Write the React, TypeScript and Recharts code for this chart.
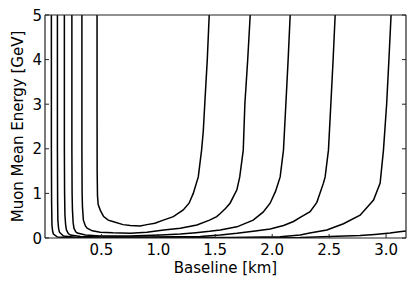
import { Line, LineChart, XAxis, YAxis } from "recharts";

// contour lines (x: baseline km, y: muon mean energy GeV)
const contour1 = [
  { x: 0.462, y: 5.0 }, { x: 0.462, y: 3.0 }, { x: 0.463, y: 1.5 }, { x: 0.466, y: 0.95 },
  { x: 0.472, y: 0.75 }, { x: 0.491, y: 0.62 }, { x: 0.52, y: 0.48 }, { x: 0.56, y: 0.4 },
  { x: 0.6, y: 0.37 }, { x: 0.69, y: 0.3 }, { x: 0.754, y: 0.28 }, { x: 0.84, y: 0.27 },
  { x: 0.9, y: 0.3 }, { x: 0.97, y: 0.33 }, { x: 1.044, y: 0.4 }, { x: 1.132, y: 0.48 },
  { x: 1.219, y: 0.63 }, { x: 1.27, y: 0.78 }, { x: 1.307, y: 1.0 }, { x: 1.351, y: 1.37 },
  { x: 1.38, y: 1.97 }, { x: 1.395, y: 2.4 }, { x: 1.41, y: 3.1 }, { x: 1.43, y: 4.0 },
  { x: 1.447, y: 5.0 },
];
const contour2 = [
  { x: 0.329, y: 5.0 }, { x: 0.329, y: 2.0 }, { x: 0.331, y: 1.0 }, { x: 0.334, y: 0.7 },
  { x: 0.342, y: 0.4 }, { x: 0.36, y: 0.27 }, { x: 0.375, y: 0.22 }, { x: 0.42, y: 0.16 },
  { x: 0.49, y: 0.13 }, { x: 0.6, y: 0.115 }, { x: 0.754, y: 0.105 }, { x: 0.9, y: 0.13 },
  { x: 1.048, y: 0.18 }, { x: 1.193, y: 0.22 }, { x: 1.339, y: 0.29 }, { x: 1.45, y: 0.4 },
  { x: 1.513, y: 0.48 }, { x: 1.544, y: 0.55 }, { x: 1.59, y: 0.66 }, { x: 1.63, y: 0.78 },
  { x: 1.69, y: 1.08 }, { x: 1.715, y: 1.37 }, { x: 1.746, y: 1.97 }, { x: 1.76, y: 3.0 },
  { x: 1.785, y: 4.0 }, { x: 1.807, y: 5.0 },
];
const contour3 = [
  { x: 0.241, y: 5.0 }, { x: 0.241, y: 2.0 }, { x: 0.243, y: 1.0 }, { x: 0.246, y: 0.63 },
  { x: 0.252, y: 0.35 }, { x: 0.259, y: 0.22 }, { x: 0.275, y: 0.14 }, { x: 0.289, y: 0.11 },
  { x: 0.36, y: 0.067 }, { x: 0.49, y: 0.045 }, { x: 0.75, y: 0.045 }, { x: 1.02, y: 0.067 },
  { x: 1.193, y: 0.09 }, { x: 1.33, y: 0.12 }, { x: 1.45, y: 0.15 }, { x: 1.544, y: 0.18 },
  { x: 1.69, y: 0.25 }, { x: 1.833, y: 0.4 }, { x: 1.92, y: 0.58 }, { x: 1.982, y: 0.78 },
  { x: 2.03, y: 1.05 }, { x: 2.07, y: 1.37 }, { x: 2.099, y: 1.97 }, { x: 2.12, y: 3.0 },
  { x: 2.14, y: 4.0 }, { x: 2.158, y: 5.0 },
];
const contour4 = [
  { x: 0.175, y: 5.0 }, { x: 0.175, y: 2.0 }, { x: 0.177, y: 1.0 }, { x: 0.18, y: 0.52 },
  { x: 0.186, y: 0.3 }, { x: 0.193, y: 0.18 }, { x: 0.21, y: 0.1 }, { x: 0.228, y: 0.067 },
  { x: 0.316, y: 0.034 }, { x: 0.49, y: 0.022 }, { x: 0.93, y: 0.022 }, { x: 1.368, y: 0.034 },
  { x: 1.544, y: 0.067 }, { x: 1.69, y: 0.105 }, { x: 1.851, y: 0.157 }, { x: 1.982, y: 0.2 },
  { x: 2.1, y: 0.28 }, { x: 2.187, y: 0.37 }, { x: 2.25, y: 0.47 }, { x: 2.333, y: 0.59 },
  { x: 2.392, y: 0.8 }, { x: 2.45, y: 1.23 }, { x: 2.465, y: 1.37 }, { x: 2.494, y: 1.97 },
  { x: 2.515, y: 3.0 }, { x: 2.535, y: 4.0 }, { x: 2.553, y: 5.0 },
];
const contour5 = [
  { x: 0.114, y: 5.0 }, { x: 0.114, y: 2.0 }, { x: 0.116, y: 0.8 }, { x: 0.118, y: 0.4 },
  { x: 0.124, y: 0.22 }, { x: 0.132, y: 0.13 }, { x: 0.167, y: 0.045 }, { x: 0.272, y: 0.015 },
  { x: 0.93, y: 0.01 }, { x: 1.632, y: 0.013 }, { x: 2.07, y: 0.03 }, { x: 2.246, y: 0.067 },
  { x: 2.33, y: 0.11 }, { x: 2.48, y: 0.18 }, { x: 2.626, y: 0.32 }, { x: 2.772, y: 0.51 },
  { x: 2.89, y: 0.85 }, { x: 2.948, y: 1.23 }, { x: 2.977, y: 1.97 }, { x: 3.005, y: 3.0 },
  { x: 3.025, y: 4.0 }, { x: 3.044, y: 5.0 },
];
const contour6 = [
  { x: 0.061, y: 5.0 }, { x: 0.061, y: 2.0 }, { x: 0.063, y: 0.8 }, { x: 0.066, y: 0.29 },
  { x: 0.072, y: 0.15 }, { x: 0.079, y: 0.09 }, { x: 0.114, y: 0.022 }, { x: 0.228, y: 0.006 },
  { x: 1.368, y: 0.004 }, { x: 2.246, y: 0.011 }, { x: 2.509, y: 0.034 }, { x: 2.772, y: 0.056 },
  { x: 2.9, y: 0.08 }, { x: 3.035, y: 0.11 }, { x: 3.1, y: 0.135 }, { x: 3.175, y: 0.157 },
];

const contours = [contour1, contour2, contour3, contour4, contour5, contour6];

const xTicks = [0.5, 1.0, 1.5, 2.0, 2.5, 3.0];
const yTicks = [0, 1, 2, 3, 4, 5];
const xDomain = [0.005, 3.175];
const yDomain = [0, 5];

const FONT = "DejaVu Sans";
const SPINE = "#222";
const TICK_LEN = 4;

function BottomTick({ x, y, payload }: any) {
  return (
    <g>
      <line x1={x} x2={x} y1={y} y2={y - TICK_LEN} stroke={SPINE} strokeWidth={1} />
      <text x={x} y={y + 17} textAnchor="middle" fontFamily={FONT} fontSize={15} fill="#000">
        {payload.value.toFixed(1)}
      </text>
    </g>
  );
}

function LeftTick({ x, y, payload }: any) {
  return (
    <g>
      <line x1={x} x2={x + TICK_LEN} y1={y} y2={y} stroke={SPINE} strokeWidth={1} />
      <text x={x - 3} y={y + 5.5} textAnchor="end" fontFamily={FONT} fontSize={15} fill="#000">
        {payload.value}
      </text>
    </g>
  );
}

function TopTick({ x, y }: any) {
  return <line x1={x} x2={x} y1={y} y2={y + TICK_LEN} stroke={SPINE} strokeWidth={1} />;
}

function RightTick({ x, y }: any) {
  return <line x1={x} x2={x - TICK_LEN} y1={y} y2={y} stroke={SPINE} strokeWidth={1} />;
}

function YTitle({ viewBox }: any) {
  const cx = viewBox.x + 23;
  const cy = viewBox.y + viewBox.height / 2;
  return (
    <text
      x={cx}
      y={cy}
      transform={`rotate(-90, ${cx}, ${cy})`}
      textAnchor="middle"
      fontFamily={FONT}
      fontSize={15}
      fill="#000"
    >
      Muon Mean Energy [GeV]
    </text>
  );
}

export default function App() {
  return (
    <div style={{ position: "absolute", left: 0, top: 0 }}>
      <LineChart width={415} height={286} margin={{ top: 14, right: 8, bottom: 0, left: 0 }}>
        <XAxis
          dataKey="x"
          type="number"
          domain={xDomain}
          ticks={xTicks}
          interval={0}
          allowDataOverflow
          height={48}
          tickSize={0}
          tickMargin={0}
          tickLine={false}
          tick={<BottomTick />}
          axisLine={{ stroke: SPINE, strokeWidth: 1.2 }}
          label={{ value: "Baseline [km]", position: "insideBottom", offset: 13, fontFamily: FONT, fontSize: 15, fill: "#000" }}
        />
        <XAxis
          xAxisId="top"
          orientation="top"
          type="number"
          domain={xDomain}
          ticks={xTicks}
          interval={0}
          allowDataOverflow
          height={1}
          tickSize={0}
          tickMargin={0}
          tickLine={false}
          tick={<TopTick />}
          axisLine={{ stroke: SPINE, strokeWidth: 1.2 }}
        />
        <YAxis
          type="number"
          domain={yDomain}
          ticks={yTicks}
          interval={0}
          allowDataOverflow
          width={45}
          tickSize={0}
          tickMargin={0}
          tickLine={false}
          tick={<LeftTick />}
          axisLine={{ stroke: SPINE, strokeWidth: 1.2 }}
          label={{ content: (props: any) => <YTitle {...props} /> }}
        />
        <YAxis
          yAxisId="right"
          orientation="right"
          type="number"
          domain={yDomain}
          ticks={yTicks}
          interval={0}
          allowDataOverflow
          width={1}
          tickSize={0}
          tickMargin={0}
          tickLine={false}
          tick={<RightTick />}
          axisLine={{ stroke: SPINE, strokeWidth: 1.2 }}
        />
        {contours.map((points, i) => (
          <Line
            key={i}
            data={points}
            dataKey="y"
            type="linear"
            stroke="#000"
            strokeWidth={1.5}
            dot={false}
            activeDot={false}
            isAnimationActive={false}
          />
        ))}
      </LineChart>
    </div>
  );
}
